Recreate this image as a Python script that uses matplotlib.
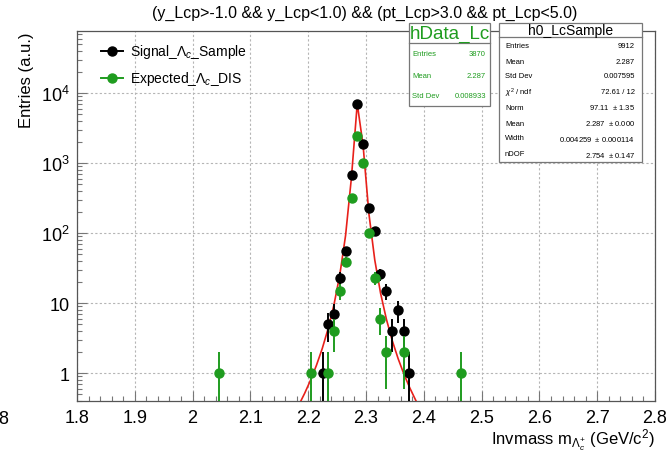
import math
import numpy as np
import matplotlib
matplotlib.use("Agg")
import matplotlib.pyplot as plt
from matplotlib.lines import Line2D
from matplotlib.patches import Rectangle
from matplotlib.ticker import FixedLocator, FixedFormatter

plt.rcParams['font.family'] = ['Liberation Sans', 'DejaVu Sans']
plt.rcParams['mathtext.fontset'] = 'custom'
plt.rcParams['mathtext.rm'] = 'Liberation Sans'
plt.rcParams['mathtext.it'] = 'Liberation Sans:italic'
plt.rcParams['mathtext.bf'] = 'Liberation Sans:bold'

# ---------------- data ----------------
signal_x = [2.225, 2.235, 2.245, 2.255, 2.265, 2.275, 2.285, 2.295, 2.305,
            2.315, 2.325, 2.335, 2.345, 2.355, 2.365, 2.375]
signal_y = [1, 5, 7, 23, 55, 675, 7050, 1900, 227, 106, 26, 15, 4, 8, 4, 1]

dis_x = [2.045, 2.205, 2.235, 2.245, 2.255, 2.265, 2.275, 2.285, 2.295,
         2.305, 2.315, 2.325, 2.335, 2.365, 2.465]
dis_y = [1, 1, 1, 4, 15, 39, 318, 2450, 1010, 101, 23, 6, 2, 2, 1]

# fit parameters (Student-t) from the stats box
fit_norm = 97.11
fit_mean = 2.287
fit_width = 0.004259
fit_ndof = 2.754
fit_npx = 100

x_ticks = [1.8, 1.9, 2.0, 2.1, 2.2, 2.3, 2.4, 2.5, 2.6, 2.7, 2.8]
x_tick_labels = ['1.8', '1.9', '2', '2.1', '2.2', '2.3', '2.4', '2.5', '2.6', '2.7', '2.8']
y_ticks = [1, 10, 100, 1000, 10000]
y_tick_labels = ['1', '10', '$10^{2}$', '$10^{3}$', '$10^{4}$']

hdata_stats = [('Entries', '3870'), ('Mean', '2.287'), ('Std Dev', '0.008933')]
h0_stats = [('Entries', '9912'), ('Mean', '2.287'), ('Std Dev', '0.007595'),
            (r'$\chi^{2}$ / ndf', '72.61 / 12'),
            ('Norm', '97.11  $\\pm$ 1.35'), ('Mean', '2.287  $\\pm$ 0.000'),
            ('Width', '0.004259  $\\pm$ 0.000114'), ('nDOF', '2.754  $\\pm$ 0.147')]

GREEN = '#1f9c1f'
W, H = 671, 452


def fx(px):
    return px / W


def fy(py):
    return 1 - py / H


fig = plt.figure(figsize=(6.71, 4.52), dpi=100)
ax = fig.add_axes([fx(77), fy(402), (655 - 77) / W, (402 - 32) / H])
ax.set_yscale('log')
ax.set_xlim(1.8, 2.8)
ax.set_ylim(0.4, 7.7e4)

# grid / ticks
ax.xaxis.set_major_locator(FixedLocator(x_ticks))
ax.xaxis.set_major_formatter(FixedFormatter(x_tick_labels))
ax.xaxis.set_minor_locator(FixedLocator(np.round(np.arange(1.8, 2.8001, 0.02), 3)))
ax.yaxis.set_major_locator(FixedLocator(y_ticks))
ax.yaxis.set_major_formatter(FixedFormatter(y_tick_labels))
minors = [m * 10 ** e for e in range(-1, 5) for m in range(2, 10)]
ax.yaxis.set_minor_locator(FixedLocator(minors))
ax.yaxis.set_minor_formatter(FixedFormatter([''] * len(minors)))
ax.grid(True, which='major', color='#b5b5b5', linestyle=(0, (2, 2)), linewidth=0.8)
ax.set_axisbelow(True)
ax.tick_params(which='both', direction='in', color='#777777', labelsize=13)
ax.tick_params(which='major', length=7, width=0.8)
ax.tick_params(which='minor', length=3.5, width=0.8)
ax.tick_params(axis='x', pad=6)
ax.tick_params(axis='y', pad=5)
for s in ax.spines.values():
    s.set_color('#555555')
    s.set_linewidth(0.9)

# fit curve (sampled like ROOT's TF1 with npx points over the axis range)
xf = np.linspace(1.8, 2.8, fit_npx)
t = (xf - fit_mean) / fit_width
coef = math.gamma((fit_ndof + 1) / 2) / (math.sqrt(fit_ndof * math.pi) * math.gamma(fit_ndof / 2))
yf = fit_norm * coef / fit_width * (1 + t ** 2 / fit_ndof) ** (-(fit_ndof + 1) / 2)
ax.plot(xf, yf, color='#e8201a', lw=1.2, zorder=3)


def draw_points(xs, ys, color, z):
    xs = np.array(xs)
    ys = np.array(ys, dtype=float)
    err = np.sqrt(ys)
    lo = np.maximum(ys - err, 1e-3)
    hi = ys + err
    ax.vlines(xs, lo, hi, color=color, lw=1.4, zorder=z)
    ax.plot(xs, ys, 'o', color=color, ms=6.5, zorder=z + 0.5)


draw_points(signal_x, signal_y, 'black', 4)
draw_points(dis_x, dis_y, GREEN, 5)

# legend
for py, col, lab in [(52, 'black', r'Signal_$\Lambda_{c}$_Sample'),
                     (79, GREEN, r'Expected_$\Lambda_{c}$_DIS')]:
    fig.add_artist(Line2D([fx(101), fx(123)], [fy(py), fy(py)], color=col, lw=1.4))
    fig.add_artist(Line2D([fx(112)], [fy(py)], marker='o', color=col, ms=6.5))
    fig.text(fx(130), fy(py), lab, fontsize=10, va='center', ha='left')

# title & axis labels
fig.text(fx(365), fy(13), '(y_Lcp>-1.0 && y_Lcp<1.0) && (pt_Lcp>3.0 && pt_Lcp<5.0)',
         fontsize=11.5, ha='center', va='center')
fig.text(fx(27), fy(32), 'Entries (a.u.)', rotation=90, fontsize=12, ha='center', va='top')
fig.text(fx(655), fy(440), r'Invmass m$_{\Lambda_{c}^{+}}$ (GeV/c$^{2}$)', fontsize=12,
         ha='right', va='center')
fig.text(fx(3), fy(419), '8', fontsize=13, ha='center', va='center')


# stats boxes
def box(x0, y0, x1, y1, ysep):
    fig.add_artist(Rectangle((fx(x0), fy(y1)), (x1 - x0) / W, (y1 - y0) / H,
                             facecolor='white', edgecolor='#777777', lw=0.9, zorder=10))
    fig.add_artist(Line2D([fx(x0), fx(x1)], [fy(ysep), fy(ysep)], color='#777777', lw=0.9, zorder=11))


box(409, 24, 490, 107, 44)
fig.text(fx(449.5), fy(34), 'hData_Lc', color=GREEN, fontsize=13.5, ha='center', va='center', zorder=12)
for (lab, val), py in zip(hdata_stats, [55, 76, 96]):
    fig.text(fx(412), fy(py), lab, color=GREEN, fontsize=5.5, ha='left', va='center', zorder=12)
    fig.text(fx(486), fy(py), val, color=GREEN, fontsize=5.5, ha='right', va='center', zorder=12)

box(499, 24, 642, 163, 38)
fig.text(fx(570.5), fy(31), 'h0_LcSample', color='black', fontsize=10, ha='center', va='center', zorder=12)
for (lab, val), py in zip(h0_stats, [47, 62, 77, 93, 108, 124, 139, 155]):
    fig.text(fx(505), fy(py), lab, color='black', fontsize=5.5, ha='left', va='center', zorder=12)
    fig.text(fx(635), fy(py), val, color='black', fontsize=5.5, ha='right', va='center', zorder=12)

fig.savefig('out.png', dpi=100)
